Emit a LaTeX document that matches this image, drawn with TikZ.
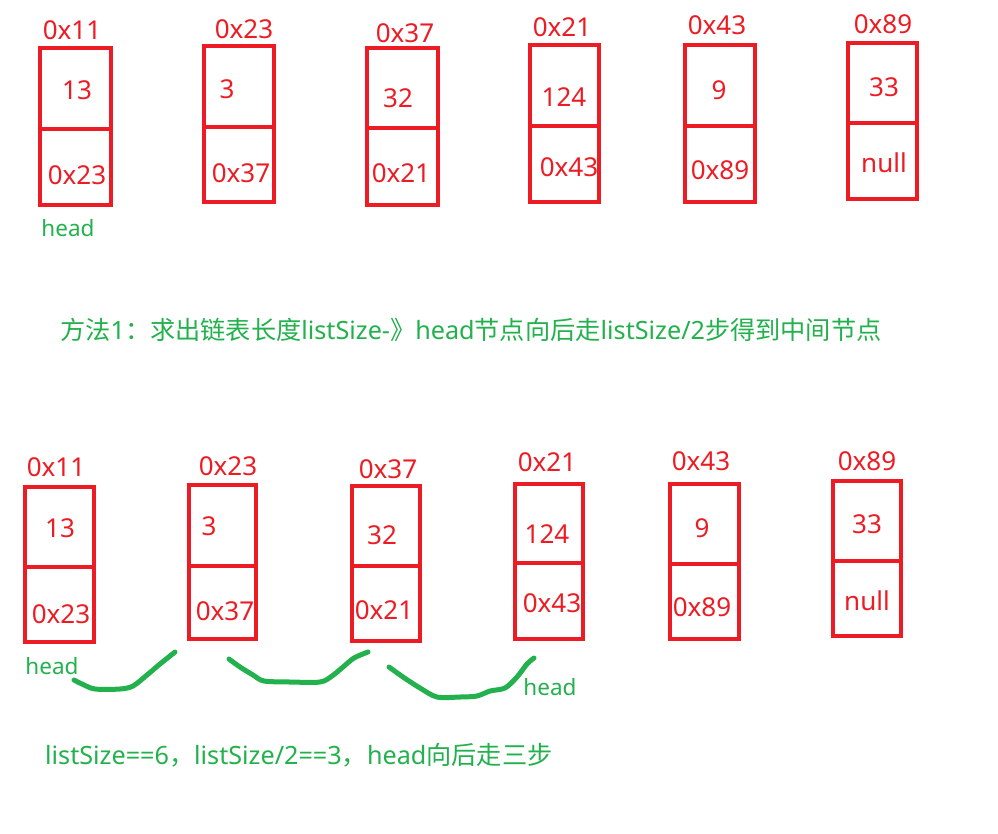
\documentclass[tikz,border=0pt]{standalone}
\usepackage{fontspec}
\setmainfont{Noto Sans}
\newfontfamily\cjk{Noto Sans CJK SC}
\usetikzlibrary{fit}
\definecolor{pred}{RGB}{237,28,36}
\definecolor{pgreen}{RGB}{34,177,76}
\tikzset{
  box/.style={draw=pred, line width=4pt, rectangle, inner sep=0pt},
  boxline/.style={draw=pred, line width=4pt},
  lbl/.style={text=pred, inner sep=0pt, font=\fontsize{26}{30}\selectfont},
  hd/.style={text=pgreen, inner sep=0pt, font=\fontsize{22.5}{27}\selectfont},
  note/.style={text=pgreen, inner sep=0pt, anchor=west, font=\fontsize{25.2}{30}\selectfont},
  wiggle/.style={draw=pgreen, line width=5pt, line cap=round, line join=round}
}
\newcommand\lbox[6]{%
  \node[box, fit={(#2,#4)(#3,#5)}] (#1) {};
  \draw[boxline] (#1.west |- 0,#6) -- (#1.east |- 0,#6);}
\begin{document}
\begin{tikzpicture}[x=1pt,y=-1pt]
\useasboundingbox[fill=white] (0,0) rectangle (998,833);
% top row
\lbox{t1}{40}{111}{48}{205}{129}
\lbox{t2}{204}{274}{46}{202}{127}
\lbox{t3}{367}{438}{48}{205}{128}
\lbox{t4}{530}{599}{45}{202}{126}
\lbox{t5}{685}{755}{45}{202}{126}
\lbox{t6}{848}{917}{43}{199}{123}
\node[lbl] (t1l) at (72,30) {0x11};
\node[lbl] (t1a) at (77,90) {13};
\node[lbl] (t1b) at (77,175) {0x23};
\node[hd]  (t1h) at (68,228) {head};
\node[lbl] (t2l) at (244,29) {0x23};
\node[lbl] (t2a) at (227,89) {3};
\node[lbl] (t2b) at (241,173) {0x37};
\node[lbl] (t3l) at (405,33) {0x37};
\node[lbl] (t3a) at (398,98) {32};
\node[lbl] (t3b) at (401,173) {0x21};
\node[lbl] (t4l) at (562,27) {0x21};
\node[lbl] (t4a) at (564,97) {124};
\node[lbl] (t4b) at (569,167) {0x43};
\node[lbl] (t5l) at (717,25) {0x43};
\node[lbl] (t5a) at (719,90) {9};
\node[lbl] (t5b) at (720,170) {0x89};
\node[lbl] (t6l) at (883,24) {0x89};
\node[lbl] (t6a) at (884,87) {33};
\node[lbl] (t6b) at (884,163) {null};
% method text
\node[note] (m1) at (60,330) {{\cjk 方法}1{\cjk ：求出链表长度}listSize-{\cjk 》}head{\cjk 节点向后走}listSize/2{\cjk 步得到中间节点}};
% bottom row
\lbox{b1}{25}{94}{487}{642}{567}
\lbox{b2}{189}{256}{485}{639}{566}
\lbox{b3}{352}{420}{486}{641}{566}
\lbox{b4}{515}{583}{484}{639}{563}
\lbox{b5}{670}{739}{484}{639}{564}
\lbox{b6}{833}{901}{481}{636}{561}
\node[lbl] (b1l) at (56,467) {0x11};
\node[lbl] (b1a) at (60,528) {13};
\node[lbl] (b1b) at (61,614) {0x23};
\node[hd]  (b1h) at (52,666) {head};
\node[lbl] (b2l) at (228,466) {0x23};
\node[lbl] (b2a) at (209,526) {3};
\node[lbl] (b2b) at (225,611) {0x37};
\node[lbl] (b3l) at (388,469) {0x37};
\node[lbl] (b3a) at (382,535) {32};
\node[lbl] (b3b) at (384,610) {0x21};
\node[lbl] (b4l) at (547,462) {0x21};
\node[lbl] (b4a) at (547,534) {124};
\node[lbl] (b4b) at (552,603) {0x43};
\node[hd]  (b4h) at (550,687) {head};
\node[lbl] (b5l) at (701,461) {0x43};
\node[lbl] (b5a) at (702,528) {9};
\node[lbl] (b5b) at (702,607) {0x89};
\node[lbl] (b6l) at (867,461) {0x89};
\node[lbl] (b6a) at (867,524) {33};
\node[lbl] (b6b) at (867,601) {null};
% hand-drawn step curves
\draw[wiggle] plot[smooth, tension=0.5] coordinates {(175,652) (160,664) (147,675) (133,686) (120,689) (95,689) (82,684) (74,680)};
\draw[wiggle] plot[smooth, tension=0.5] coordinates {(229,659) (240,667) (253,675) (264,681) (290,682) (320,682) (332,676) (343,667) (354,658) (368,652)};
\draw[wiggle] plot[smooth, tension=0.5] coordinates {(389,667) (403,677) (420,688) (437,697) (460,697) (477,696) (490,691) (505,688) (517,677) (527,664) (534,658)};
% bottom text
\node[note] (m2) at (45,755) {listSize==6{\cjk ，}listSize/2==3{\cjk ，}head{\cjk 向后走三步}};
\end{tikzpicture}
\end{document}
